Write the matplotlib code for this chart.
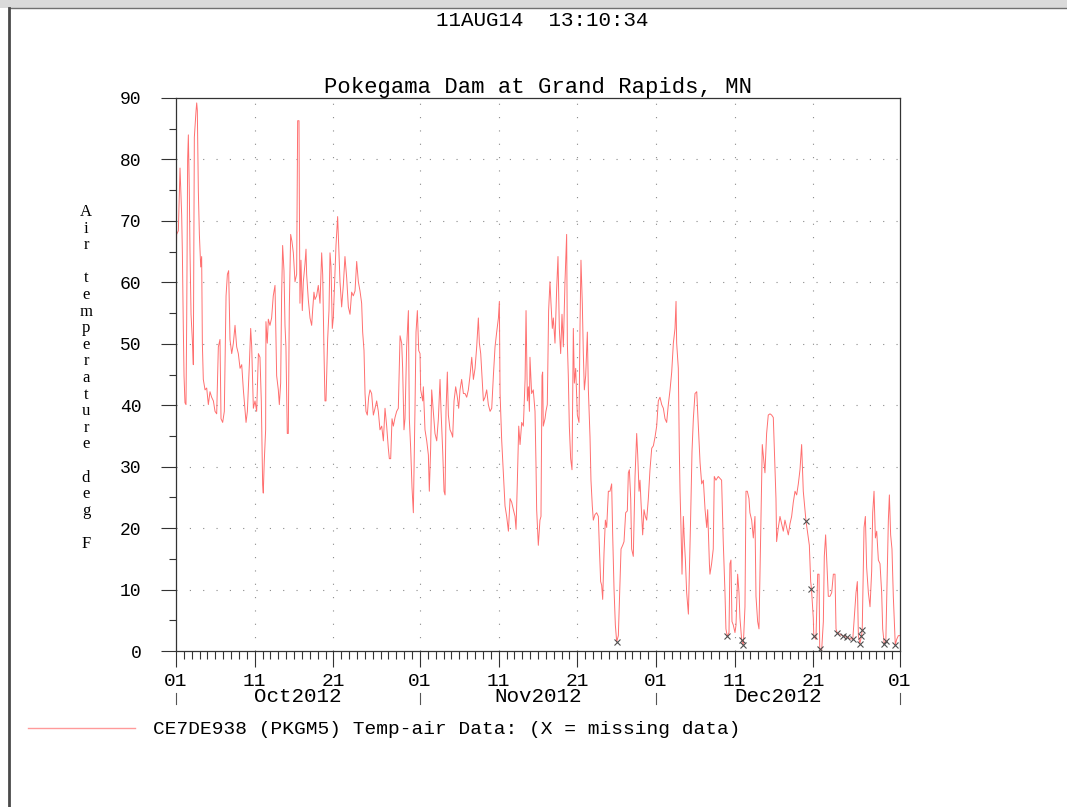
import matplotlib
matplotlib.use('Agg')
import matplotlib.pyplot as plt
import matplotlib.transforms as mtransforms
from matplotlib.lines import Line2D
from matplotlib.patches import Rectangle

# air temperature (deg F), x = days after 01 Oct 2012 00:00
days_oct01_oct11 = [0.00, 0.08, 0.30, 0.51, 0.72, 0.81, 0.93, 1.02, 1.14, 1.27,
                    1.36, 1.48, 1.57, 1.69, 1.78, 1.91, 2.12, 2.20, 2.33, 2.54,
                    2.63, 2.71, 2.84, 2.97, 3.14, 3.26, 3.35, 3.47, 3.69, 3.90,
                    4.11, 4.32, 4.53, 4.75, 4.96, 5.17, 5.38, 5.59, 5.72, 5.93,
                    6.14, 6.36, 6.53, 6.69, 6.86, 7.08, 7.29, 7.50, 7.71, 7.92,
                    8.14, 8.35, 8.56, 8.90, 9.07, 9.32, 9.49, 9.62, 9.83, 10.04,
                    10.25, 10.47]
temp_oct01_oct11 = [60, 67.8, 68.4, 78.6, 71, 64.8, 52.5, 44.8, 40.4, 40.1,
                    54, 80, 84, 75, 65, 54.8, 49.5, 46.6, 83.6, 87.8,
                    89.2, 88, 74.8, 67.8, 62.5, 64.2, 50, 44.2, 42.5, 42.8,
                    40.1, 42.2, 41.3, 40.7, 39, 38.6, 49.5, 50.7, 37.8, 37.2,
                    39, 57.8, 61.3, 61.9, 50.7, 48.4, 50.1, 53, 49.5, 48.4,
                    46, 46.6, 42.5, 37.2, 39, 46.6, 52.5, 49.5, 39.5, 40.7,
                    39, 48.4]

days_oct11_oct22 = [10.67, 10.84, 11.01, 11.09, 11.22, 11.39, 11.43, 11.60, 11.73, 11.94,
                    12.15, 12.36, 12.58, 12.79, 13.00, 13.13, 13.30, 13.42, 13.55, 13.72,
                    13.85, 13.97, 14.14, 14.27, 14.40, 14.57, 14.74, 14.91, 15.12, 15.33,
                    15.46, 15.63, 15.67, 15.75, 15.88, 16.05, 16.18, 16.39, 16.52, 16.60,
                    16.81, 17.03, 17.24, 17.36, 17.53, 17.66, 17.87, 18.08, 18.30, 18.51,
                    18.64, 18.81, 18.93, 19.06, 19.27, 19.44, 19.57, 19.70, 19.86, 19.99,
                    20.33, 20.54, 20.67, 20.84, 21.05, 21.26, 21.47, 21.69, 21.90]
temp_oct11_oct22 = [47.8, 40.7, 27, 25.7, 31, 36, 53.6, 50.1, 54, 53,
                    54.2, 57.8, 59.5, 44.8, 42.5, 40.1, 43.6, 57.8, 66, 61.9,
                    53, 49.5, 35.4, 35.4, 56, 67.8, 66.6, 64.8, 60.1, 61.3,
                    86.3, 86.3, 74.2, 56.6, 63.6, 55.4, 60.1, 63, 65.4, 61.3,
                    57.2, 54.2, 53, 55.4, 58.4, 57.2, 57.8, 59.5, 56.6, 64.8,
                    61.3, 48.4, 40.7, 40.7, 50.7, 55.4, 64.8, 62.5, 52.5, 54.2,
                    66, 70.7, 66, 60.1, 56, 59.5, 64.2, 60.7, 56]

days_oct23_nov03 = [22.11, 22.32, 22.53, 22.75, 22.96, 23.17, 23.38, 23.59, 23.72, 23.89,
                    24.02, 24.14, 24.31, 24.48, 24.65, 24.86, 25.08, 25.29, 25.50, 25.71,
                    25.92, 26.14, 26.35, 26.56, 26.77, 26.98, 27.11, 27.28, 27.45, 27.62,
                    27.83, 28.04, 28.25, 28.47, 28.68, 28.80, 28.97, 29.10, 29.31, 29.53,
                    29.65, 29.82, 29.99, 30.16, 30.37, 30.50, 30.67, 30.84, 31.01, 31.09,
                    31.35, 31.43, 31.64, 31.86, 32.07, 32.19, 32.36, 32.49, 32.70, 32.91,
                    33.13, 33.34]
temp_oct23_nov03 = [54.8, 58.4, 57.8, 58.6, 63.4, 60.1, 58.6, 56.6, 51.9, 48.9,
                    41.9, 39, 38.4, 41.3, 42.5, 41.9, 38.4, 39.5, 40.7, 39,
                    36, 36.6, 34.2, 39.5, 36.6, 33, 31.3, 31.3, 37.8, 36.6,
                    38, 39, 39.5, 51.3, 50.1, 46, 36, 37.8, 49.5, 55.4,
                    37.8, 33, 26.6, 22.5, 39.5, 51.9, 55.4, 48.9, 48.4, 42.5,
                    40.7, 43, 36, 34.2, 31.9, 26, 33, 42.5, 39, 35.4,
                    34.2, 37.8]

days_nov03_nov15 = [33.55, 33.68, 33.89, 34.06, 34.19, 34.31, 34.48, 34.61, 34.82, 35.03,
                    35.16, 35.33, 35.54, 35.75, 35.92, 36.09, 36.30, 36.52, 36.73, 36.94,
                    37.15, 37.36, 37.58, 37.79, 38.00, 38.21, 38.42, 38.55, 38.72, 38.85,
                    39.06, 39.27, 39.48, 39.69, 39.91, 40.12, 40.33, 40.54, 40.75, 40.97,
                    41.09, 41.18, 41.39, 41.60, 41.81, 42.02, 42.24, 42.45, 42.66, 42.87,
                    43.08, 43.21, 43.38, 43.55, 43.72, 43.93, 44.14, 44.36, 44.48, 44.65,
                    44.78, 44.91]
temp_nov03_nov15 = [44.2, 39, 32.5, 26, 25.4, 39, 45.4, 38.4, 36, 35.4,
                    34.8, 40.7, 43, 41.3, 39.5, 42.5, 44.2, 41.9, 41.9, 41.3,
                    42.5, 44.8, 47.8, 44.2, 46, 49.5, 54.2, 50.1, 48.4, 45.4,
                    40.7, 41.3, 42.5, 40.1, 39, 39.5, 44.8, 49.5, 51.9, 54.2,
                    56.9, 41.9, 34.2, 29, 23.6, 21.9, 19.5, 24.8, 24.2, 23,
                    21.9, 19.8, 27.8, 36.6, 33.6, 37.2, 36.6, 44.2, 55.4, 40.7,
                    43, 39]

days_nov15_nov26 = [44.98, 45.19, 45.40, 45.62, 45.74, 45.83, 46.04, 46.25, 46.38, 46.51,
                    46.59, 46.67, 46.89, 47.01, 47.18, 47.35, 47.52, 47.65, 47.82, 47.95,
                    48.16, 48.37, 48.54, 48.71, 48.88, 49.05, 49.22, 49.43, 49.64, 49.73,
                    49.85, 49.98, 50.15, 50.32, 50.49, 50.62, 50.79, 51.00, 51.21, 51.34,
                    51.46, 51.63, 51.76, 51.89, 52.06, 52.27, 52.40, 52.61, 52.73, 52.90,
                    53.03, 53.24, 53.45, 53.67, 53.79, 53.96, 54.09, 54.22, 54.39, 54.56,
                    54.73, 54.94, 55.15, 55.36, 55.49, 55.66, 55.83, 56.00, 56.21]
temp_nov15_nov26 = [47.8, 41.9, 42.5, 39, 30.7, 23, 17.2, 21.3, 21.9, 44.8,
                    45.4, 36.6, 37.8, 39, 40.1, 55.4, 60.1, 56.6, 52.5, 54.2,
                    50.1, 58.9, 64.2, 52.5, 48.4, 54.8, 49.5, 60.1, 67.8, 50.1,
                    44.8, 36.6, 31.3, 29.5, 52.5, 43.6, 46, 38.4, 37.2, 53,
                    63.6, 56.6, 48.4, 42.5, 44.8, 51.9, 42.5, 34.8, 27.8, 23.6,
                    21.3, 22.2, 22.5, 21.9, 17.2, 11.3, 10.7, 8.4, 16, 21.3,
                    20.1, 26, 26, 27.2, 18.9, 10.1, 4.2, 1.5, 2.5]

days_nov26_dec08 = [56.55, 56.76, 56.93, 57.14, 57.35, 57.48, 57.61, 57.78, 57.90, 58.11,
                    58.33, 58.54, 58.67, 58.84, 58.96, 59.09, 59.30, 59.47, 59.64, 59.81,
                    60.02, 60.23, 60.45, 60.66, 60.87, 61.08, 61.29, 61.50, 61.72, 61.93,
                    62.14, 62.35, 62.56, 62.78, 62.99, 63.20, 63.41, 63.54, 63.62, 63.83,
                    63.96, 64.05, 64.17, 64.30, 64.47, 64.60, 64.73, 64.89, 65.11, 65.23,
                    65.40, 65.57, 65.74, 65.95, 66.17, 66.38, 66.59, 66.80, 67.01, 67.23,
                    67.44, 67.56, 67.78]
temp_nov26_dec08 = [16.6, 17.2, 17.8, 22.5, 22.8, 29, 29.5, 24.8, 16.6, 15.4,
                    28.4, 35.4, 31.9, 26, 27.8, 24.2, 18.9, 23, 21.9, 21.3,
                    24.8, 29.5, 33, 33.4, 34.8, 36.6, 40.7, 41.3, 40.1, 39.5,
                    37.8, 37.2, 40.1, 42.5, 45.4, 50.1, 52.5, 56.9, 50.1, 46,
                    32.5, 26, 20.1, 12.5, 21.9, 17.8, 14.8, 9.5, 6, 12.5,
                    21.9, 32.5, 37.8, 41.9, 42.2, 36.6, 30.7, 27.2, 27.8, 23,
                    20.1, 23, 14.2]

days_dec08_dec20 = [67.85, 68.06, 68.27, 68.40, 68.61, 68.91, 69.33, 69.54, 69.76, 69.88,
                    70.05, 70.27, 70.39, 70.52, 70.65, 70.82, 71.03, 71.16, 71.37, 71.54,
                    71.66, 71.88, 72.09, 72.30, 72.43, 72.60, 72.81, 72.93, 73.15, 73.36,
                    73.57, 73.70, 73.91, 74.08, 74.21, 74.33, 74.50, 74.63, 74.84, 75.05,
                    75.26, 75.48, 75.69, 75.90, 76.11, 76.24, 76.32, 76.54, 76.75, 76.96,
                    77.17, 77.38, 77.60, 77.81, 78.02, 78.23, 78.44, 78.66, 78.87, 79.08,
                    79.29, 79.50]
temp_dec08_dec20 = [12.5, 14.2, 16.6, 28.4, 27.8, 28.4, 27.8, 17.8, 9.5, 3.6,
                    2.4, 3, 14.2, 14.8, 4.8, 4.2, 3, 4.2, 12.5, 9.5,
                    5.4, 1.8, 1.0, 7.2, 26, 26, 24.8, 22.5, 21.3, 18.4,
                    21.9, 8.9, 4.8, 3.6, 12.5, 21.3, 33.6, 31.9, 29, 35.4,
                    38.4, 38.6, 38.4, 38, 30.1, 24.8, 17.8, 20.1, 21.9, 20.7,
                    19.5, 21.3, 20.1, 18.9, 20.7, 21.9, 24.2, 26, 25.4, 27.2,
                    29.5, 33.6]

days_dec20_jan01 = [79.71, 79.93, 80.05, 80.48, 80.65, 80.75, 80.98, 81.05, 81.32, 81.54,
                    81.71, 81.80, 82.04, 82.26, 82.38, 82.55, 82.76, 82.89, 83.10, 83.32,
                    83.53, 83.74, 83.87, 84.00, 84.70, 85.30, 86.00, 86.41, 86.58, 86.71,
                    86.90, 87.10, 87.20, 87.43, 87.60, 87.76, 87.98, 88.19, 88.40, 88.53,
                    88.70, 88.87, 89.04, 89.25, 89.46, 89.67, 89.80, 90.00, 90.20, 90.52,
                    90.65, 90.81, 90.98, 91.15, 91.40, 91.58, 91.79, 92.00]
temp_dec20_jan01 = [26, 23, 21.2, 17.2, 11.3, 10.1, 5.4, 2.4, 1.9, 12.5,
                    12.5, 0.4, 0, 4.8, 15.4, 18.9, 12.5, 8.9, 8.9, 9.5,
                    12.5, 12.5, 3.6, 3.0, 2.5, 2.2, 1.9, 9.5, 11.3, 2.5,
                    1.2, 2.4, 3.4, 20.1, 21.9, 13.6, 9.5, 7.2, 13, 22.5,
                    26, 18.4, 19.5, 14.8, 14.2, 9.5, 3.6, 1.1, 1.6, 21.3,
                    25.4, 18.9, 16.6, 8.9, 1.0, 1.9, 2.5, 2.5]

# missing data flags (X)
missing_days = [56.0, 70.05, 71.88, 72.09, 80.05, 80.75, 81.05, 81.8, 84.0,
                84.7, 85.3, 86.0, 86.9, 87.1, 87.2, 90.0, 90.2, 91.4]
missing_temp = [1.5, 2.4, 1.8, 1.0, 21.2, 10.1, 2.4, 0.4, 3.0,
                2.5, 2.2, 1.9, 1.2, 2.4, 3.4, 1.1, 1.6, 1.0]

# axis labelling
day_ticks = [0, 10, 20, 31, 41, 51, 61, 71, 81, 92]
day_labels = ['01', '11', '21', '01', '11', '21', '01', '11', '21', '01']
month_edges = [0, 31, 61, 92]
month_labels = ['Oct2012', 'Nov2012', 'Dec2012']

days = (days_oct01_oct11 + days_oct11_oct22 + days_oct23_nov03 + days_nov03_nov15
        + days_nov15_nov26 + days_nov26_dec08 + days_dec08_dec20 + days_dec20_jan01)
temps = (temp_oct01_oct11 + temp_oct11_oct22 + temp_oct23_nov03 + temp_nov03_nov15
         + temp_nov15_nov26 + temp_nov26_dec08 + temp_dec08_dec20 + temp_dec20_jan01)

plt.rcParams['font.family'] = ['Liberation Mono', 'DejaVu Sans Mono']

W, H = 1067, 807
fig = plt.figure(figsize=(W / 100, H / 100), dpi=100)


def fx(px):
    return px / W


def fy(py):
    return 1 - py / H


# window frame bits
fig.add_artist(Rectangle((0, fy(8)), 1, 8 / H, transform=fig.transFigure,
                         facecolor='#dadada', edgecolor='none'))
fig.add_artist(Line2D([fx(9), 1], [fy(8), fy(8)], color='#707070', lw=1.0))
fig.add_artist(Line2D([fx(9), fx(9)], [0, fy(8)], color='#4a4a4a', lw=2.0))

ax = fig.add_axes([fx(176), fy(651), fx(900) - fx(176), fy(98) - fy(651)])
ax.set_xlim(0, 92)
ax.set_ylim(0, 90)

# dotted grid
dots = (0, (1, 11))
for v in range(10, 90, 10):
    ax.axhline(v, color='#8a8a8a', lw=0.8, ls=dots, zorder=1)
for d in day_ticks[1:-1]:
    ax.axvline(d, color='#8a8a8a', lw=0.8, ls=dots, zorder=1)

ax.plot(days, temps, color='#ff6f6f', lw=0.7, zorder=2)
ax.plot(missing_days, missing_temp, ls='none', marker='x', ms=5, mew=0.8,
        color='#505050', zorder=3)

for s in ax.spines.values():
    s.set_color('#333333')
    s.set_linewidth(0.9)

ax.set_xticks(day_ticks)
ax.set_xticklabels(day_labels)
ax.set_xticks(range(0, 93), minor=True)
ax.set_yticks(range(0, 91, 10))
ax.set_yticks(range(5, 90, 10), minor=True)
ax.tick_params(axis='both', which='both', direction='out', color='#333333', width=0.8)
ax.tick_params(axis='x', which='major', length=11.5, pad=4, labelsize=14)
ax.tick_params(axis='x', which='minor', length=5.5)
ax.tick_params(axis='y', which='major', length=10.8, pad=14, labelsize=13)
ax.tick_params(axis='y', which='minor', length=5)

# month names and separators under the day labels
trans = mtransforms.blended_transform_factory(ax.transData, ax.transAxes)
for i, name in enumerate(month_labels):
    mid = (month_edges[i] + month_edges[i + 1]) / 2
    ax.text(mid, -46 / 553, name, transform=trans, ha='center', va='center', fontsize=15)
for e in month_edges:
    ax.plot([e, e], [-42 / 553, -53 / 553], transform=trans, color='#555555',
            lw=0.8, clip_on=False)

fig.text(fx(542), fy(20), '11AUG14  13:10:34', ha='center', va='center', fontsize=15)
fig.text(fx(538), fy(87), 'Pokegama Dam at Grand Rapids, MN', ha='center', va='center',
         fontsize=16)

fig.text(fx(86), fy(378), '\n'.join('Air temperature deg F'), ha='center', va='center',
         multialignment='center', fontsize=12, linespacing=1.05,
         family=['Liberation Serif', 'DejaVu Serif'])

# legend
fig.add_artist(Line2D([fx(28), fx(135)], [fy(728), fy(728)], color='#ff9a9a', lw=1.0))
fig.text(fx(153), fy(729), 'CE7DE938 (PKGM5) Temp-air Data: (X = missing data)',
         ha='left', va='center', fontsize=14)

fig.savefig('out.png', dpi=100)
